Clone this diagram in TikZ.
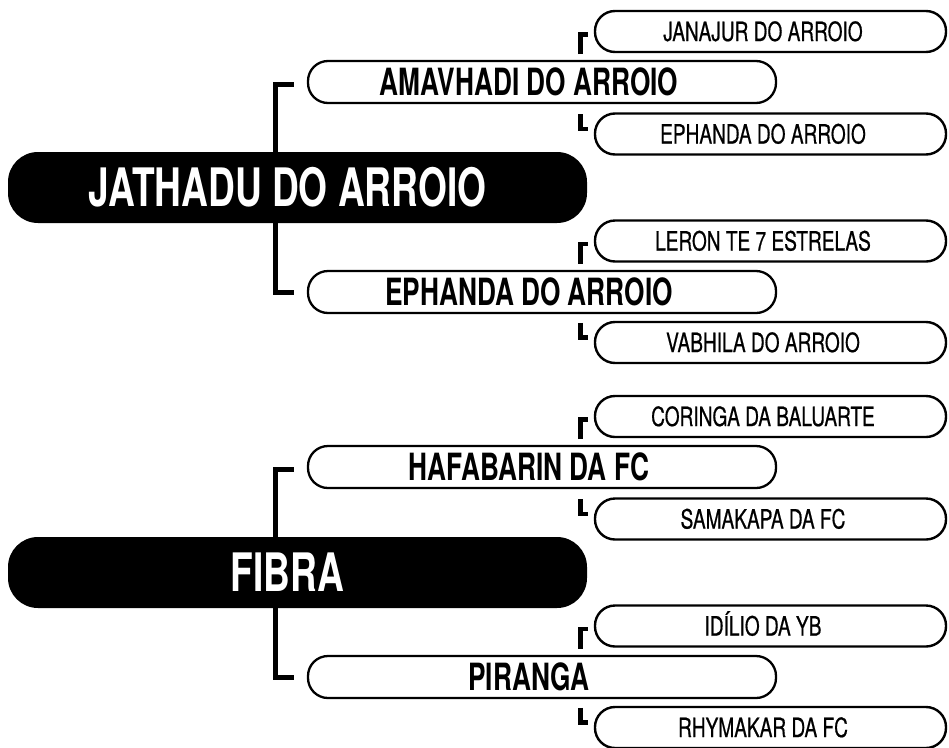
\documentclass[tikz,border=0pt]{standalone}
\usepackage{fontspec}
\newfontfamily\cnfont{TeX Gyre Heros}[FakeStretch=0.70]
\newfontfamily\cnleaf{TeX Gyre Heros}[FakeStretch=0.72, FakeBold=0.6]
\usepackage{tikz}

\begin{document}
\begin{tikzpicture}[x=1pt, y=-1pt,
  root/.style={fill=black, text=white, rounded corners=30pt, inner sep=0pt, minimum width=579pt, minimum height=71pt, text height=38pt, text depth=0pt, font=\cnfont\bfseries\fontsize{53}{53}\selectfont, execute at end node={\hspace*{20pt}}, },
  mid/.style={draw=black, line width=2.3pt, fill=white, rounded corners=20pt, inner sep=0pt, minimum width=468pt, minimum height=42pt, text height=27pt, text depth=0pt, font=\cnfont\bfseries\fontsize{37.5}{37.5}\selectfont, execute at end node={\hspace*{26pt}}, },
  leaf/.style={draw=black, line width=2.4pt, fill=white, rounded corners=20pt, inner sep=0pt, minimum width=351pt, minimum height=41pt, text height=19pt, text depth=0pt, font=\cnleaf\fontsize{26.5}{26.5}\selectfont, execute at end node={\hspace*{15pt}}, },
  link/.style={draw=black, line width=5pt, line join=miter, },
  tick/.style={draw=black, line width=4.5pt, line join=miter, }]
\useasboundingbox (0,0) rectangle (949,747);
\node[root, ] (A) at (297.5, 187.5) {JATHADU DO ARROIO};
\node[mid, ] (B) at (542, 82) {AMAVHADI DO ARROIO};
\node[leaf, ] (C) at (770.5, 31.5) {JANAJUR DO ARROIO};
\node[leaf, ] (D) at (770.5, 134) {EPHANDA DO ARROIO};
\node[mid, ] (E) at (542, 292) {EPHANDA DO ARROIO};
\node[leaf, ] (F) at (770.5, 241) {LERON TE 7 ESTRELAS};
\node[leaf, ] (G) at (770.5, 342.5) {VABHILA DO ARROIO};
\node[root, ] (H) at (297.5, 572.5) {FIBRA};
\node[mid, ] (I) at (542, 467) {HAFABARIN DA FC};
\node[leaf, ] (J) at (770.5, 416.5) {CORINGA DA BALUARTE};
\node[leaf, ] (K) at (770.5, 519) {SAMAKAPA DA FC};
\node[mid, ] (L) at (542, 677) {PIRANGA};
\node[leaf, ] (M) at (770.5, 626) {IDÍLIO DA YB};
\node[leaf, ] (N) at (770.5, 727.5) {RHYMAKAR DA FC};
\draw [link] ([xshift=-31pt]B.west |- A.north) |- ([xshift=-13pt, yshift=-2pt]B.west);
\draw [link] ([xshift=-31pt]E.west |- A.south) |- ([xshift=-13pt]E.west);
\draw [link] ([xshift=-31pt]I.west |- H.north) |- ([xshift=-13pt, yshift=-2pt]I.west);
\draw [link] ([xshift=-31pt]L.west |- H.south) |- ([xshift=-13pt]L.west);
\draw [tick] ([xshift=-13.5pt, yshift=-1pt]C.south west) |- ([xshift=-6pt, yshift=-3pt]C.west);
\draw [tick] ([xshift=-13.5pt, yshift=-2pt]D.north west) |- ([xshift=-6pt, yshift=5pt]D.west);
\draw [tick] ([xshift=-13.5pt, yshift=-1pt]F.south west) |- ([xshift=-6pt, yshift=-3pt]F.west);
\draw [tick] ([xshift=-13.5pt, yshift=-2pt]G.north west) |- ([xshift=-6pt, yshift=5pt]G.west);
\draw [tick] ([xshift=-13.5pt, yshift=-1pt]J.south west) |- ([xshift=-6pt, yshift=-3pt]J.west);
\draw [tick] ([xshift=-13.5pt, yshift=-2pt]K.north west) |- ([xshift=-6pt, yshift=5pt]K.west);
\draw [tick] ([xshift=-13.5pt, yshift=-1pt]M.south west) |- ([xshift=-6pt, yshift=-3pt]M.west);
\draw [tick] ([xshift=-13.5pt, yshift=-2pt]N.north west) |- ([xshift=-6pt, yshift=5pt]N.west);
\end{tikzpicture}
\end{document}
